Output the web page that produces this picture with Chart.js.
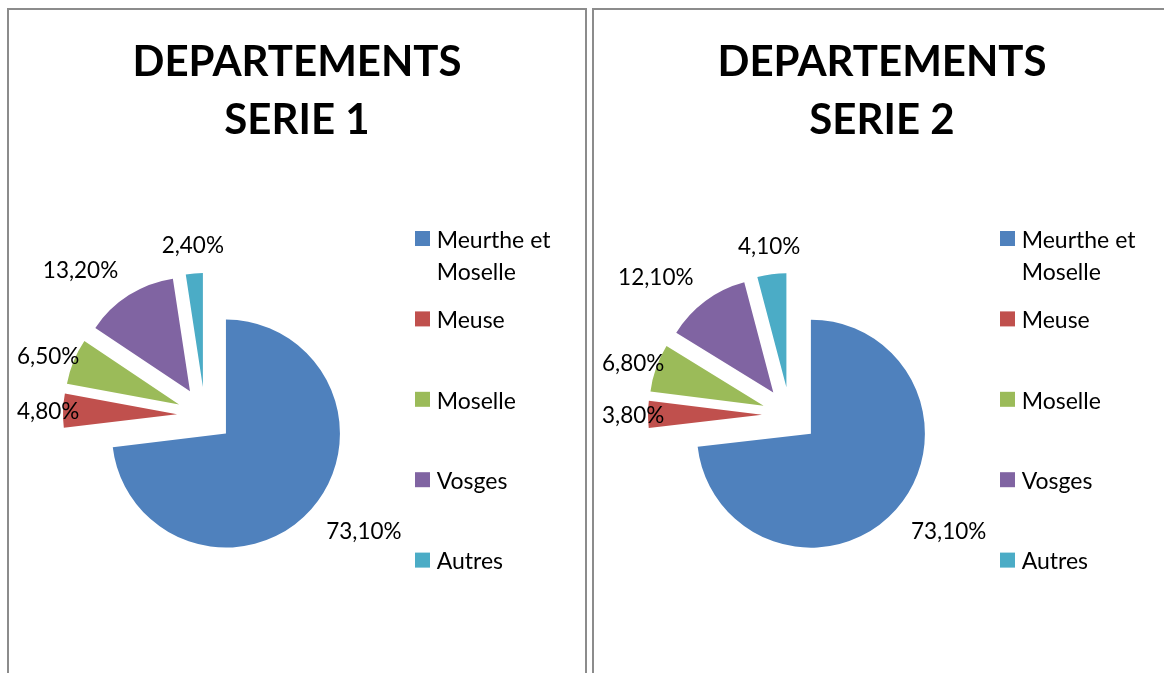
<!DOCTYPE html>
<html>
<head>
<meta charset="utf-8">
<script src="https://cdn.jsdelivr.net/npm/chart.js@4/dist/chart.umd.min.js"></script>
<style>
html,body{margin:0;padding:0;background:#fff;overflow:hidden;width:1164px;height:673px;}
.panel{position:absolute;top:8px;width:576px;height:700px;border:2px solid #8c8c8c;background:#fff;}
#p1{left:7px;}
#p2{left:592px;}
canvas{position:absolute;left:0;top:0;}
</style>
</head>
<body>
<div class="panel" id="p1"><canvas id="c1" width="576" height="663" style="width:576px;height:663px"></canvas></div>
<div class="panel" id="p2"><canvas id="c2" width="576" height="663" style="width:576px;height:663px"></canvas></div>
<script>
// ---- data ----
const categories = ['Meurthe et Moselle', 'Meuse', 'Moselle', 'Vosges', 'Autres'];
const serie1 = [73.1, 4.8, 6.5, 13.2, 2.4];
const serie2 = [73.1, 3.8, 6.8, 12.1, 4.1];
const title1 = ['DEPARTEMENTS', 'SERIE 1'];
const title2 = ['DEPARTEMENTS', 'SERIE 2'];
const colors = ['#4F81BD', '#C0504D', '#9BBB59', '#8064A2', '#4BACC6'];

// ---- style constants ----
const PIE_R = 114;        // radius of the pie (px)
const EXPLODE = 28;       // every slice is pulled out by this distance
const LABEL_GAP = 20;
const LABEL_SIZE = 22.5;
const LEGEND_SIZE = 23;
const LEGEND_W = 184;
const FONT = 'Lato';

// exploded slices: each arc element is drawn translated along its mid angle
const explode = {
  id: 'explode',
  beforeDatasetsDraw(chart) {
    chart.getDatasetMeta(0).data.forEach(arc => {
      if (arc.$explodeWrapped) return;
      const baseDraw = arc.draw;
      arc.draw = function (ctx) {
        const mid = (this.startAngle + this.endAngle) / 2;
        ctx.save();
        ctx.translate(Math.cos(mid) * EXPLODE, Math.sin(mid) * EXPLODE);
        baseDraw.call(this, ctx);
        ctx.restore();
      };
      arc.$explodeWrapped = true;
    });
  }
};

// percentage labels outside each slice
const pieLabels = {
  id: 'pieLabels',
  afterDatasetsDraw(chart) {
    const ctx = chart.ctx;
    const meta = chart.getDatasetMeta(0);
    const ds = chart.data.datasets[0];
    const capH = LABEL_SIZE * 0.72;
    const minLeft = 8;
    ctx.save();
    ctx.font = LABEL_SIZE + 'px ' + FONT;
    ctx.fillStyle = '#000';
    ctx.textAlign = 'left';
    ctx.textBaseline = 'alphabetic';
    meta.data.forEach((arc, i) => {
      const mid = (arc.startAngle + arc.endAngle) / 2;
      const dx = Math.cos(mid), dy = Math.sin(mid);
      const d = arc.outerRadius + EXPLODE + LABEL_GAP;
      const px = arc.x + dx * d, py = arc.y + dy * d;
      const txt = ds.data[i].toFixed(2).replace('.', ',') + '%';
      const w = ctx.measureText(txt).width;
      let left = dx > 0.2 ? px : (dx < -0.2 ? px - w : px - w / 2);
      let top = dy > 0.2 ? py : (dy < -0.2 ? py - capH : py - capH / 2);
      if (left < minLeft && dx < 0) {
        // slide the label back along its ray until it fits
        const t = (minLeft - left) / (-dx);
        left = minLeft;
        top -= t * dy;
      }
      ctx.fillText(txt, left, top + capH);
    });
    ctx.restore();
  }
};

function wrapText(ctx, text, maxW) {
  const words = text.split(' ');
  const lines = [];
  let cur = '';
  words.forEach(wd => {
    const test = cur ? cur + ' ' + wd : wd;
    if (cur && ctx.measureText(test).width > maxW) { lines.push(cur); cur = wd; }
    else cur = test;
  });
  if (cur) lines.push(cur);
  return lines;
}

// legend on the right, as a layout box
const sideLegend = {
  id: 'sideLegend',
  beforeInit(chart) {
    const box = {
      position: 'right', weight: 1000, fullSize: false, options: {},
      left: 0, top: 0, right: 0, bottom: 0, width: 0, height: 0,
      isHorizontal() { return false; },
      update(maxWidth, maxHeight) { this.width = LEGEND_W; this.height = maxHeight; },
      draw() {}
    };
    box._layers = () => [{ z: 0, draw() {} }];
    if (Chart.layouts && Chart.layouts.addBox) Chart.layouts.addBox(chart, box);
    else chart.boxes.push(box);
    chart.$side = box;
  },
  afterDraw(chart) {
    const ctx = chart.ctx;
    const box = chart.$side;
    const ca = chart.chartArea;
    const cy = (ca.top + ca.bottom) / 2;
    const labels = chart.data.labels;
    const bg = chart.data.datasets[0].backgroundColor;
    ctx.save();
    ctx.font = LEGEND_SIZE + 'px ' + FONT;
    ctx.textAlign = 'left';
    ctx.textBaseline = 'alphabetic';
    let y = cy - 184;
    const sx = box.left + 14;
    labels.forEach((lab, i) => {
      ctx.fillStyle = bg[i];
      ctx.fillRect(sx, y, 15, 15);
      ctx.fillStyle = '#000';
      wrapText(ctx, lab, 140).forEach((ln, k) => {
        ctx.fillText(ln, sx + 21.7, y + 16.8 + k * 32);
      });
      y += 80.4;
    });
    ctx.restore();
  }
};

function makeChart(id, values, title) {
  return new Chart(document.getElementById(id), {
    type: 'pie',
    data: {
      labels: categories,
      datasets: [{ data: values, backgroundColor: colors, borderWidth: 0 }]
    },
    options: {
      responsive: false,
      animation: false,
      events: [],
      radius: PIE_R,
      layout: { padding: 0 },
      plugins: {
        legend: { display: false },
        tooltip: { enabled: false },
        title: {
          display: true,
          text: title,
          color: '#000',
          font: { family: FONT, weight: 'bold', size: 42, lineHeight: 1.393 },
          padding: { top: 23, bottom: 7 }
        }
      }
    },
    plugins: [sideLegend, explode, pieLabels]
  });
}

makeChart('c1', serie1, title1);
makeChart('c2', serie2, title2);
</script>
</body>
</html>
